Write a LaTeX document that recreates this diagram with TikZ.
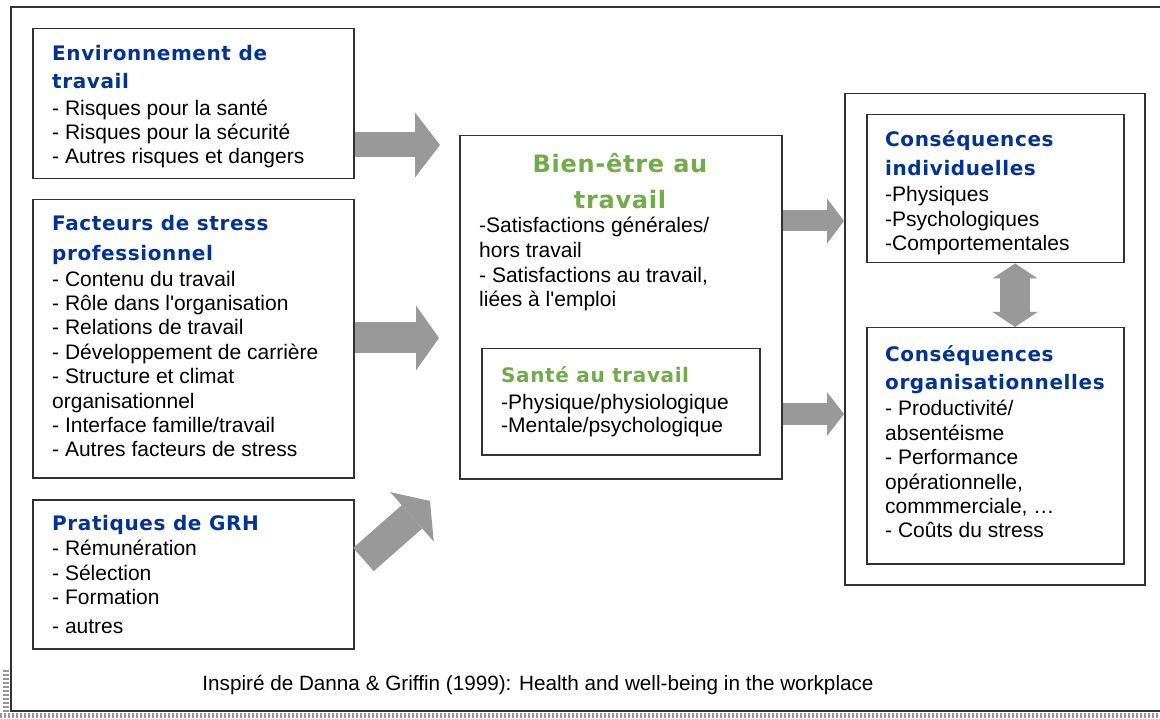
\documentclass[tikz,border=0pt]{standalone}
\usepackage{fontspec}
\setmainfont{Liberation Sans}
\newfontfamily\headfont{DejaVu Sans}[LetterSpace=3]
\usetikzlibrary{arrows.meta}

\definecolor{titleblue}{RGB}{0,51,153}
\definecolor{titlegreen}{RGB}{112,173,71}
\definecolor{arrowgray}{RGB}{153,153,153}
\definecolor{framegray}{RGB}{50,50,50}

\newcommand{\bluehead}[1]{{\headfont\bfseries\fontsize{20}{24}\selectfont\color{titleblue}#1}}
\newcommand{\greenhead}[1]{{\headfont\bfseries\fontsize{20}{24}\selectfont\color{titlegreen}#1}}
\newcommand{\q}{\textquotesingle}

\tikzset{
  box/.style={draw=framegray, line width=1.5pt, anchor=north west, inner sep=0pt},
  bodytext/.style={anchor=north west, inner sep=0pt, align=left,
    font=\fontsize{21}{24.4}\selectfont},
  blockarrow/.style n args={3}{draw=arrowgray, line width=#1,
    -{Triangle[length=#3, width=#2, line width=0pt]}},
  twoway/.style n args={3}{draw=arrowgray, line width=#1,
    {Triangle[length=#3, width=#2, line width=0pt]}-{Triangle[length=#3, width=#2, line width=0pt]}}
}

\begin{document}
\begin{tikzpicture}[x=1pt, y=-1pt]
  \clip (0,0) rectangle (1160,719);
  \fill[white] (0,0) rectangle (1160,719);

  % outer frame
  \draw[framegray, line width=1.3pt] (1170,7) -- (11,7) -- (11,711) -- (1170,711);
  \draw[black!40, line width=5pt, dash pattern=on 2pt off 2pt] (0,715.5) -- (1160,715.5);
  \draw[black!40, line width=6pt, dash pattern=on 2pt off 2pt] (6,670) -- (6,712);

  % left column
  \node[box, minimum width=321pt, minimum height=150pt] (env) at (32,28) {};
  \node[bodytext] (envtxt) at (52,45) {\bluehead{Environnement de}\\[4pt]\bluehead{travail}\\[2pt]
    - Risques pour la santé\\- Risques pour la sécurité\\- Autres risques et dangers};

  \node[box, minimum width=321pt, minimum height=278pt] (stress) at (32,199) {};
  \node[bodytext] (stresstxt) at (52,215) {\bluehead{Facteurs de stress}\\[6pt]\bluehead{professionnel}\\[1pt]
    - Contenu du travail\\- Rôle dans l\q organisation\\- Relations de travail\\
    - Développement de carrière\\- Structure et climat\\organisationnel\\
    - Interface famille/travail\\- Autres facteurs de stress};

  \node[box, minimum width=321pt, minimum height=149pt] (grh) at (32,499) {};
  \node[bodytext] (grhtxt) at (52,515) {\bluehead{Pratiques de GRH}\\[1pt]
    - Rémunération\\- Sélection\\- Formation\\[5pt]- autres};

  % middle
  \node[box, minimum width=322pt, minimum height=343pt] (bien) at (459,135) {};
  \node[anchor=north, inner sep=0pt, align=center, text=titlegreen,
    font=\headfont\bfseries\fontsize{24}{36}\selectfont] (bientitle) at (620,153) {Bien-être au\\travail};
  \node[bodytext] (bientxt) at (479,217) {-Satisfactions générales/\\hors travail\\[1pt]
    - Satisfactions au travail,\\liées à l\q emploi};

  \node[box, minimum width=278pt, minimum height=106pt] (sante) at (481,348) {};
  \node[bodytext] (santetxt) at (501,366) {\greenhead{Santé au travail}\\[3pt]
    -Physique/physiologique\\[-1pt]-Mentale/psychologique};

  % right column
  \node[box, minimum width=300pt, minimum height=491pt] (conseq) at (844,93) {};
  \node[box, minimum width=257pt, minimum height=148pt] (indiv) at (866,114) {};
  \node[bodytext] (indivtxt) at (885,130) {\bluehead{Conséquences}\\[5pt]\bluehead{individuelles}\\[2pt]
    -Physiques\\-Psychologiques\\-Comportementales};
  \node[box, minimum width=257pt, minimum height=236pt] (orga) at (866,327) {};
  \node[bodytext] (orgatxt) at (885,345) {\bluehead{Conséquences}\\[4pt]\bluehead{organisationnelles}\\[2pt]
    - Productivité/\\absentéisme\\- Performance\\opérationnelle,\\commmerciale, \dots\\- Coûts du stress};

  % block arrows
  \coordinate (envhead) at (440,145);
  \coordinate (stresshead) at (439,338);
  \coordinate (grhtail) at (363.5,559.5);
  \coordinate (grhhead) at (430,501);
  \draw[blockarrow={25pt}{65pt}{25pt}] (env.east |- envhead) -- (envhead);
  \draw[blockarrow={31pt}{65pt}{23pt}] (stress.east |- stresshead) -- (stresshead);
  \draw[blockarrow={31pt}{66pt}{24pt}] (grhtail) -- (grhhead);
  \draw[blockarrow={21pt}{45pt}{17pt}] (bien.east |- 0,221) -- (conseq.west |- 0,221);
  \draw[blockarrow={22pt}{44pt}{17pt}] (bien.east |- 0,414) -- (conseq.west |- 0,414);
  \draw[twoway={30pt}{45pt}{15pt}] (indiv.south -| 1015,0) -- (orga.north -| 1015,0);

  % source
  \node[anchor=base, inner sep=0pt, font=\fontsize{20.7}{24}\selectfont] (source) at (538,690)
    {Inspiré de Danna \& Griffin (1999): Health and well-being in the workplace};
\end{tikzpicture}
\end{document}
